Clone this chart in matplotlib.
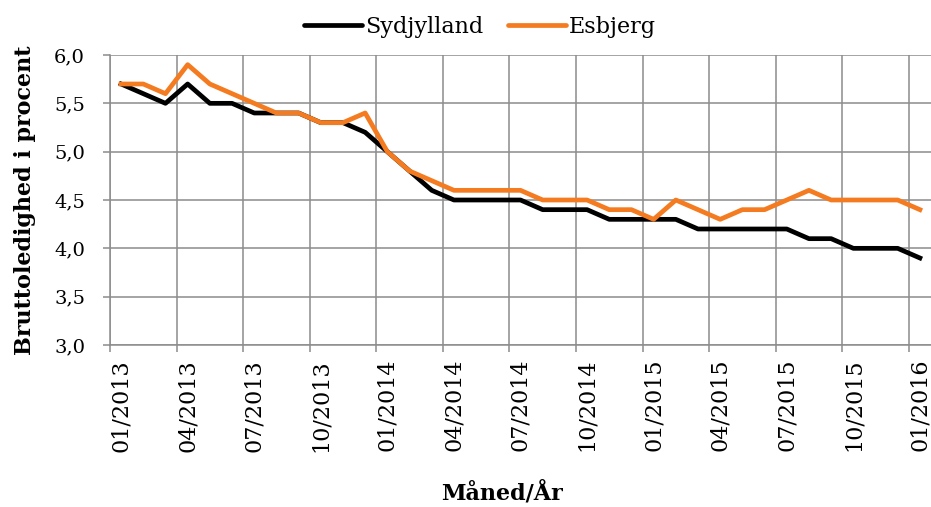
import matplotlib.pyplot as plt
import matplotlib.ticker as mticker

plt.rcParams['font.family'] = ['DejaVu Serif']

# månedlige værdier 01/2013 - 01/2016
months = ['%02d/%d' % (m, y) for y in (2013, 2014, 2015, 2016) for m in range(1, 13)][:37]
sydjylland = [5.7, 5.6, 5.5, 5.7, 5.5, 5.5, 5.4, 5.4, 5.4, 5.3, 5.3, 5.2,
              5.0, 4.8, 4.6, 4.5, 4.5, 4.5, 4.5, 4.4, 4.4, 4.4, 4.3, 4.3,
              4.3, 4.3, 4.2, 4.2, 4.2, 4.2, 4.2, 4.1, 4.1, 4.0, 4.0, 4.0,
              3.9]
esbjerg = [5.7, 5.7, 5.6, 5.9, 5.7, 5.6, 5.5, 5.4, 5.4, 5.3, 5.3, 5.4,
           5.0, 4.8, 4.7, 4.6, 4.6, 4.6, 4.6, 4.5, 4.5, 4.5, 4.4, 4.4,
           4.3, 4.5, 4.4, 4.3, 4.4, 4.4, 4.5, 4.6, 4.5, 4.5, 4.5, 4.5,
           4.4]
yticks = [3.0, 3.5, 4.0, 4.5, 5.0, 5.5, 6.0]

grey = '#8c8c8c'
orange = '#f47b20'

fig = plt.figure(figsize=(9.31, 5.07), dpi=100)
ax = fig.add_axes([110/931, 1-345/507, 821/931, 290/507])

x = list(range(len(months)))
ax.plot(x, sydjylland, color='black', lw=3.4, label='Sydjylland')
ax.plot(x, esbjerg, color=orange, lw=3.4, label='Esbjerg')

ax.set_xlim(-0.5, len(months) - 0.5)
ax.set_ylim(3.0, 6.0)

# labels i midten af kategorien, gitter på kategorigrænser
ax.set_xticks(x[::3])
ax.set_xticklabels(months[::3], rotation=90, fontsize=16)
ax.set_xticks([i - 0.5 for i in range(0, len(months) + 1, 3)], minor=True)
ax.tick_params(axis='x', which='major', length=0, pad=10)
ax.tick_params(axis='x', which='minor', length=5, color=grey, width=1.1)
ax.grid(True, axis='x', which='minor', color=grey, lw=1.1)

ax.set_yticks(yticks)
ax.yaxis.set_major_formatter(mticker.FuncFormatter(lambda v, p: ('%.1f' % v).replace('.', ',')))
ax.tick_params(axis='y', length=5, color=grey, width=1.1, pad=13, labelsize=14)
ax.grid(True, axis='y', which='major', color=grey, lw=1.1)
ax.set_axisbelow(True)

for s in ['top', 'right']:
    ax.spines[s].set_visible(False)
for s in ['left', 'bottom']:
    ax.spines[s].set_color(grey)
    ax.spines[s].set_linewidth(1.1)

ax.set_ylabel('Bruttoledighed i procent', fontsize=16, fontweight='bold')
ax.yaxis.set_label_coords(-74/821, 0.5)
fig.text(502/931, 1-493/507, 'Måned/År', fontsize=16, fontweight='bold',
         ha='center', va='center')

leg = fig.legend(loc='center', bbox_to_anchor=(480/931, 1-27/507), ncol=2,
                 frameon=False, fontsize=16, handlelength=2.6,
                 handletextpad=0.15, columnspacing=1.1)
for h in leg.get_lines():
    h.set_solid_capstyle('round')

fig.savefig('out.png', dpi=100)
